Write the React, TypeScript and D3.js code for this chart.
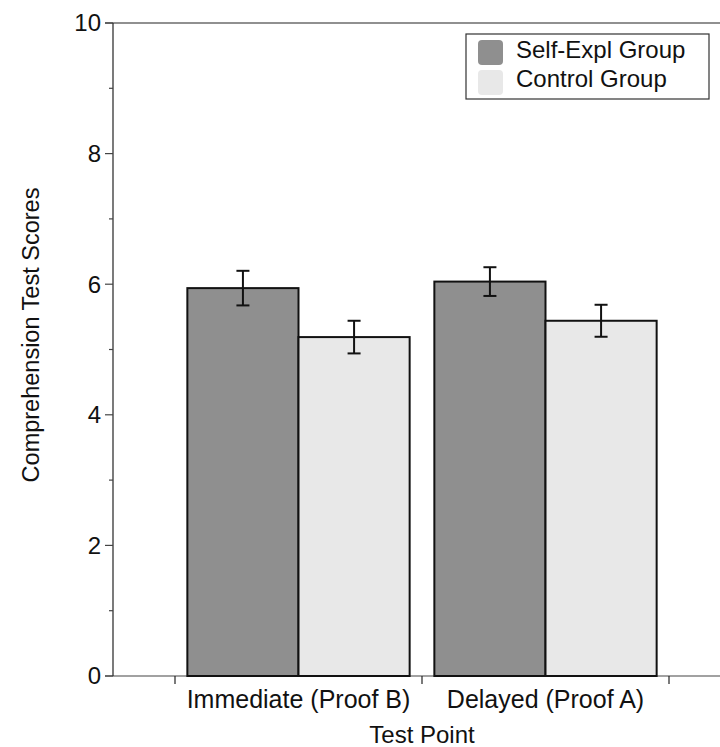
import React from "react";
import * as d3 from "d3";

const categories = ["Immediate (Proof B)", "Delayed (Proof A)"];
const groups = ["Self-Expl Group", "Control Group"];
const selfExplMeans = [5.94, 6.04];
const selfExplErr = [0.265, 0.22];
const controlMeans = [5.19, 5.44];
const controlErr = [0.25, 0.245];
const yTicks = [0, 2, 4, 6, 8, 10];
const yMinorTicks = [1, 3, 5, 7, 9];
const colors = ["#8f8f8f", "#e8e8e8"];

const W = 720;
const H = 747;
const FONT = "Helvetica, Arial, 'Liberation Sans', sans-serif";

export default function App() {
  const y = d3.scaleLinear().domain([0, 10]).range([676, 23]);
  const x0 = d3
    .scaleBand<string>()
    .domain(categories)
    .range([175, 669])
    .paddingInner(0.1)
    .paddingOuter(0.05);
  const x1 = d3.scaleBand<string>().domain(groups).range([0, x0.bandwidth()]);
  const series = [
    { name: groups[0], means: selfExplMeans, errs: selfExplErr, color: colors[0] },
    { name: groups[1], means: controlMeans, errs: controlErr, color: colors[1] },
  ];
  const boundaries = [x0.range()[0], ...categories.map((c, i) => x0.range()[0] + x0.step() * (i + 1))];
  const axisX = 113;
  const capW = 6.5;

  return (
    <svg
      width={W}
      height={H}
      style={{ position: "absolute", left: 0, top: 0, display: "block", background: "#fff" }}
      fontFamily={FONT}
    >
      {/* frame lines */}
      <line x1={105} x2={W} y1={y(10)} y2={y(10)} stroke="#222" strokeWidth={1.2} />
      <line x1={105} x2={W} y1={y(0)} y2={y(0)} stroke="#444" strokeWidth={1.2} />
      <line x1={axisX} x2={axisX} y1={y(10)} y2={y(0)} stroke="#222" strokeWidth={1.2} />

      {/* y ticks */}
      {yTicks.map((t) => (
        <g key={"yt" + t}>
          <line x1={105} x2={axisX} y1={y(t)} y2={y(t)} stroke="#444" strokeWidth={1.2} />
          <text x={101} y={y(t)} dy="0.35em" textAnchor="end" fontSize={24} fill="#111">
            {t}
          </text>
        </g>
      ))}
      {yMinorTicks.map((t) => (
        <line key={"ym" + t} x1={109} x2={axisX} y1={y(t)} y2={y(t)} stroke="#444" strokeWidth={1.2} />
      ))}

      {/* x ticks */}
      {boundaries.map((b, i) => (
        <line key={"xt" + i} x1={b} x2={b} y1={y(0)} y2={y(0) + 8} stroke="#222" strokeWidth={1.2} />
      ))}

      {/* bars */}
      {categories.map((c, ci) => (
        <g key={c} transform={`translate(${x0(c)},0)`}>
          {series.map((s) => (
            <rect
              key={s.name}
              x={x1(s.name)}
              y={y(s.means[ci])}
              width={x1.bandwidth()}
              height={y(0) - y(s.means[ci])}
              fill={s.color}
              stroke="#111"
              strokeWidth={2}
            />
          ))}
          {series.map((s) => {
            const cx = (x1(s.name) as number) + x1.bandwidth() / 2;
            const hi = y(s.means[ci] + s.errs[ci]);
            const lo = y(s.means[ci] - s.errs[ci]);
            return (
              <g key={"e" + s.name} stroke="#111" strokeWidth={2}>
                <line x1={cx} x2={cx} y1={hi} y2={lo} />
                <line x1={cx - capW} x2={cx + capW} y1={hi} y2={hi} />
                <line x1={cx - capW} x2={cx + capW} y1={lo} y2={lo} />
              </g>
            );
          })}
          <text
            x={x0.bandwidth() / 2}
            y={708}
            textAnchor="middle"
            fontSize={25}
            fill="#111"
          >
            {c}
          </text>
        </g>
      ))}

      {/* axis titles */}
      <text x={(175 + 669) / 2} y={743} textAnchor="middle" fontSize={24} fill="#111">
        Test Point
      </text>
      <text
        transform={`translate(39,335) rotate(-90)`}
        textAnchor="middle"
        fontSize={23.5}
        fill="#111"
      >
        Comprehension Test Scores
      </text>

      {/* legend */}
      <rect x={466} y={34} width={243} height={65} fill="#fff" stroke="#333" strokeWidth={1.2} />
      {series.map((s, i) => (
        <g key={"lg" + s.name}>
          <rect x={478} y={40 + i * 30} width={25} height={25} rx={4} fill={s.color} />
          <text x={516} y={57.5 + i * 29.5} fontSize={24} fill="#111">
            {s.name}
          </text>
        </g>
      ))}
    </svg>
  );
}
